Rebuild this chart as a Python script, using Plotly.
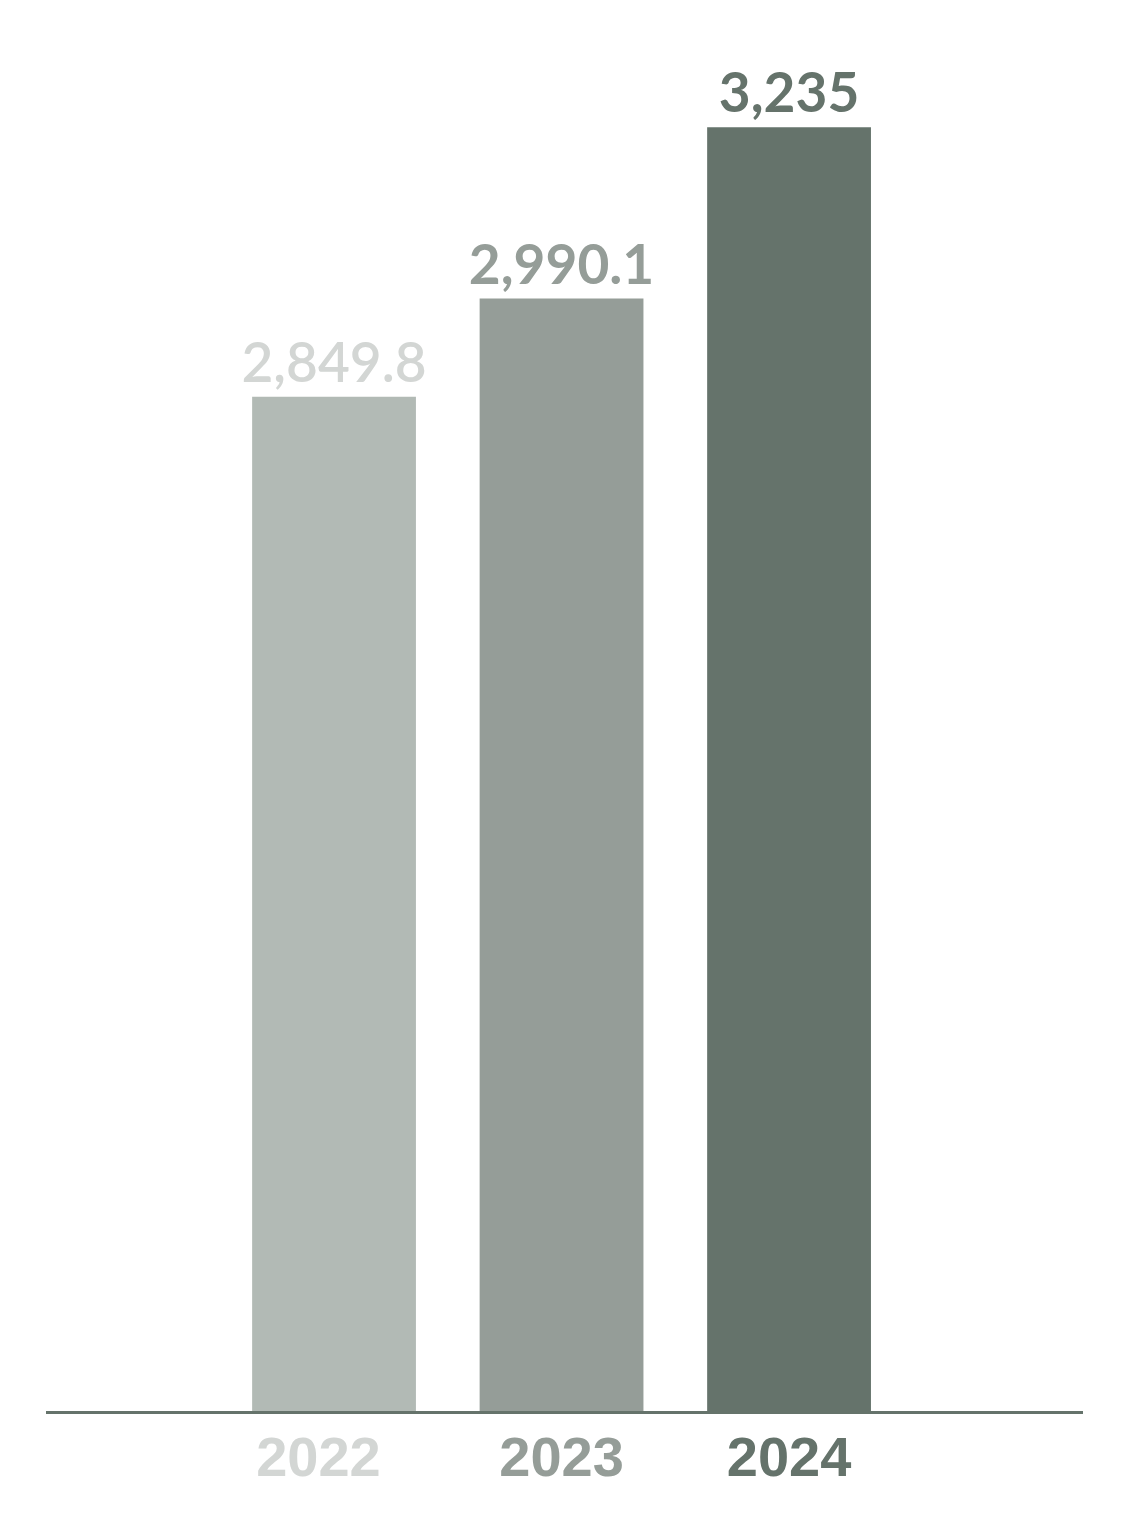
import plotly.graph_objects as go

years = ["2022", "2023", "2024"]
values = [2849.8, 2990.1, 3235]
bar_colors = ["#b2bab5", "#959d98", "#65736b"]
label_colors = ["#d3d6d4", "#959d98", "#65736b"]
label_weights = [600, 700, 700]

fig = go.Figure()
for i, (y, v) in enumerate(zip(years, values)):
    fig.add_trace(go.Bar(
        x=[i], y=[v], width=0.72,
        marker=dict(color=bar_colors[i], line=dict(width=0)),
        text=[f"{v:,}"], textposition="outside", constraintext="none",
        textfont=dict(family="Lato", size=55, color=label_colors[i], weight=label_weights[i]),
        cliponaxis=False, showlegend=False, hoverinfo="skip",
    ))

ticktext = [f'<span style="color:{c}"><b>{y}</b></span>' for y, c in zip(years, label_colors)]
ticktext[0] = ticktext[0] + "&nbsp;&nbsp;"

fig.update_layout(
    width=1142, height=1535,
    margin=dict(l=38, r=67, t=52, b=132),
    paper_bgcolor="white", plot_bgcolor="white",
    barmode="overlay",
    xaxis=dict(
        range=[-1.266, 3.292], tickvals=[0, 1, 2], ticktext=ticktext,
        showline=True, linecolor="#65736b", linewidth=3,
        ticks="", ticklabelstandoff=-5,
        tickfont=dict(family="Liberation Sans", size=56),
        showgrid=False, zeroline=False, fixedrange=True,
    ),
    yaxis=dict(
        range=[1400, 3331], visible=False, showgrid=False, zeroline=False,
    ),
)

fig.write_html("out.html")
